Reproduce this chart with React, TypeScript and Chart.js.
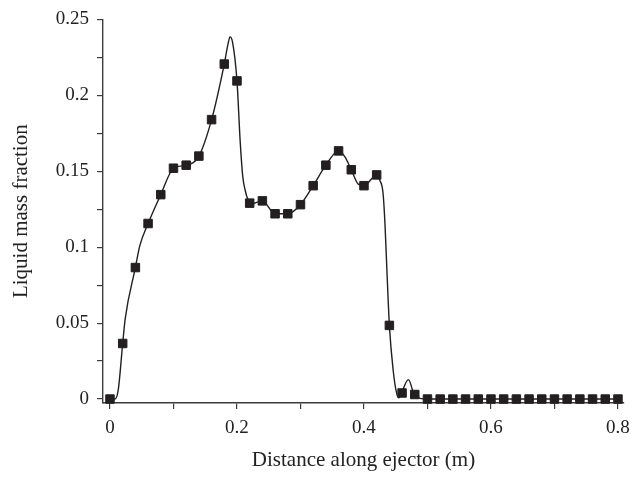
import React, { useEffect, useRef } from "react";
import { Chart, registerables } from "chart.js";

Chart.register(...registerables);

// Marker data (square symbols)
const markerX = [
  0, 0.02, 0.04, 0.06, 0.08, 0.1, 0.12, 0.14, 0.16, 0.18, 0.2, 0.22, 0.24, 0.26, 0.28, 0.3,
  0.32, 0.34, 0.36, 0.38, 0.4, 0.42, 0.44, 0.46, 0.48, 0.5, 0.52, 0.54, 0.56, 0.58, 0.6, 0.62,
  0.64, 0.66, 0.68, 0.7, 0.72, 0.74, 0.76, 0.78, 0.8,
];
const markerY = [
  0, 0.0366, 0.0866, 0.1156, 0.1346, 0.152, 0.154, 0.16, 0.184, 0.2206, 0.2095, 0.129, 0.1305,
  0.122, 0.122, 0.128, 0.1405, 0.154, 0.1634, 0.151, 0.1405, 0.1476, 0.0485, 0.004, 0.003, 0,
  0, 0, 0, 0, 0, 0, 0, 0, 0, 0, 0, 0, 0, 0, 0,
];

// Continuous curve (solid line)
const curveX = [
  0, 0.008, 0.013, 0.02, 0.024, 0.04, 0.047, 0.06, 0.08, 0.1, 0.12, 0.14, 0.16, 0.18, 0.186,
  0.189, 0.193, 0.2, 0.205, 0.209, 0.2126, 0.218, 0.222, 0.24, 0.26, 0.28, 0.3, 0.32, 0.34,
  0.36, 0.37, 0.38, 0.391, 0.4, 0.42, 0.425, 0.43, 0.433, 0.436, 0.44, 0.446, 0.4515, 0.455,
  0.459, 0.47, 0.479, 0.49, 0.5, 0.8,
];
const curveY = [
  0, 0, 0.006, 0.0366, 0.053, 0.0866, 0.101, 0.1156, 0.1346, 0.152, 0.154, 0.16, 0.184, 0.2206,
  0.234, 0.2385, 0.235, 0.2095, 0.17, 0.147, 0.138, 0.1305, 0.1285, 0.1305, 0.122, 0.122, 0.128,
  0.1405, 0.154, 0.1634, 0.1595, 0.151, 0.1415, 0.1405, 0.1476, 0.144, 0.1357, 0.116, 0.086,
  0.0485, 0.0188, 0.0037, 0.0008, 0.004, 0.0128, 0.003, 0.0003, 0, 0,
];

const xTickValues = [0, 0.1, 0.2, 0.3, 0.4, 0.5, 0.6, 0.7, 0.8];
const xTickLabels = ["0", "", "0.2", "", "0.4", "", "0.6", "", "0.8"];
const yTickValues = [0, 0.025, 0.05, 0.075, 0.1, 0.125, 0.15, 0.175, 0.2, 0.225, 0.25];
const yTickLabels = ["0", "", "0.05", "", "0.1", "", "0.15", "", "0.2", "", "0.25"];

const xTitle = "Distance along ejector (m)";
const yTitle = "Liquid mass fraction";

export default function App() {
  const ref = useRef<HTMLCanvasElement | null>(null);

  useEffect(() => {
    if (!ref.current) return;
    const ink = "#231f20";
    const axisColor = "#3c3c3c";
    const family = "'Liberation Serif', 'Times New Roman', serif";
    const font = { family, size: 19 };
    const titleFont = { family, size: 21 };

    const chart = new Chart(ref.current, {
      type: "scatter",
      data: {
        datasets: [
          {
            data: markerX.map((x, i) => ({ x, y: markerY[i] })),
            showLine: false,
            pointStyle: "rect",
            pointRadius: 6,
            pointBackgroundColor: ink,
            pointBorderColor: ink,
            pointBorderWidth: 1,
            order: 0,
            clip: false,
          } as any,
          {
            data: curveX.map((x, i) => ({ x, y: curveY[i] })),
            showLine: true,
            borderColor: ink,
            borderWidth: 1.4,
            pointRadius: 0,
            cubicInterpolationMode: "monotone",
            order: 1,
            clip: false,
          } as any,
        ],
      },
      options: {
        animation: false,
        responsive: false,
        events: [],
        layout: { padding: { top: 14, right: 19, left: 0, bottom: 0 } },
        plugins: { legend: { display: false }, tooltip: { enabled: false } },
        scales: {
          x: {
            type: "linear",
            min: -0.011,
            max: 0.8095,
            afterBuildTicks: (s: any) => {
              s.ticks = xTickValues.map((v) => ({ value: v }));
            },
            afterFit: (s: any) => {
              s.height = 74;
            },
            ticks: {
              autoSkip: false,
              maxRotation: 0,
              padding: 8,
              color: "#222",
              font,
              callback: (_v: any, i: number) => xTickLabels[i],
            },
            grid: {
              display: true,
              drawOnChartArea: false,
              drawTicks: true,
              tickLength: 6,
              color: axisColor,
              lineWidth: 1.2,
            },
            border: { display: true, color: axisColor, width: 1.4 },
            title: {
              display: true,
              text: xTitle,
              color: "#222",
              font: titleFont,
              padding: { top: 0, bottom: 4 },
            },
          },
          y: {
            type: "linear",
            min: -0.0026,
            max: 0.25,
            afterBuildTicks: (s: any) => {
              s.ticks = yTickValues.map((v) => ({ value: v }));
            },
            afterFit: (s: any) => {
              s.width = 103;
            },
            ticks: {
              autoSkip: false,
              padding: 8,
              color: "#222",
              font,
              callback: (_v: any, i: number) => yTickLabels[i],
            },
            grid: {
              display: true,
              drawOnChartArea: false,
              drawTicks: true,
              tickLength: 6,
              color: axisColor,
              lineWidth: 1.2,
            },
            border: { display: true, color: axisColor, width: 1.4 },
            title: {
              display: true,
              text: yTitle,
              color: "#222",
              font: titleFont,
              padding: { top: 9, bottom: 0 },
            },
          },
        },
      },
    });
    return () => chart.destroy();
  }, []);

  return (
    <div style={{ position: "absolute", left: 0, top: 0, width: 643, height: 477, background: "#fff" }}>
      <canvas ref={ref} width={643} height={477} style={{ width: 643, height: 477, display: "block" }} />
    </div>
  );
}
